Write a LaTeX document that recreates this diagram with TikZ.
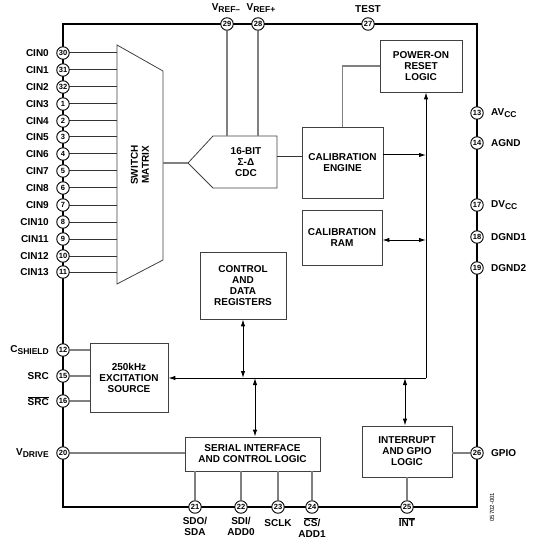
\documentclass[tikz,border=0pt]{standalone}
\usepackage{fontspec}
\setmainfont{Liberation Sans}
\usetikzlibrary{arrows.meta}
\newcommand\ovl[1]{$\overline{\mbox{#1}}$}
\newcommand\pinsub[1]{\raisebox{-2.4pt}{\fontsize{8.5}{8.5}\selectfont #1}}
\begin{document}
\begin{tikzpicture}[x=1pt,y=-1pt,
 font=\bfseries\fontsize{10}{11}\selectfont,
 pinc/.style={circle,draw=black,line width=0.9pt,fill=white,inner sep=0pt,minimum size=12.5pt,font=\bfseries\fontsize{7.5}{7.5}\selectfont},
 blk/.style={draw=black!75,line width=0.8pt,fill=white,align=center,inner sep=1pt},
 conn/.style={draw=black!50,line width=1.2pt},
 dconn/.style={draw=black!80,line width=1pt},
 arr/.style={-{Latex[length=7pt,width=4.5pt]},black,line width=1pt},
 darr/.style={{Latex[length=7pt,width=4.5pt]}-{Latex[length=7pt,width=4.5pt]},black,line width=1pt},
 lbl/.style={inner sep=0pt},
 llbl/.style={inner sep=0pt,anchor=east},
 rlbl/.style={inner sep=0pt,anchor=west},
 blbl/.style={inner sep=0pt,anchor=north,align=center,font=\bfseries\fontsize{10}{11.5}\selectfont},
]
\useasboundingbox (0,0) rectangle (539,545);
% outer border
\draw[line width=2.2pt] (63,24) rectangle (477,507);

% blocks
\node[blk,minimum width=82pt,minimum height=52pt] (por) at (421,66) {POWER-ON\\RESET\\LOGIC};
\node[blk,minimum width=81pt,minimum height=71pt] (cal) at (342.5,162.5) {CALIBRATION\\ENGINE};
\node[blk,minimum width=80pt,minimum height=55pt] (ram) at (342,237.5) {CALIBRATION\\RAM};
\node[blk,minimum width=86pt,minimum height=67pt] (ctrl) at (243,285.5) {CONTROL\\AND\\DATA\\REGISTERS};
\node[blk,minimum width=78pt,minimum height=69pt] (exc) at (129,377.5) {250kHz\\EXCITATION\\SOURCE};
\node[blk,minimum width=135pt,minimum height=34pt] (ser) at (252.5,454) {SERIAL INTERFACE\\AND CONTROL LOGIC};
\node[blk,minimum width=90pt,minimum height=51pt] (irq) at (407,451.5) {INTERRUPT\\AND GPIO\\LOGIC};

% switch matrix
\draw[draw=black!75,line width=0.8pt] (117,45) -- (163,71) -- (163,260) -- (117,284) -- cycle;
\node[lbl,rotate=90,align=center] (sw) at (140,165) {SWITCH\\MATRIX};
\coordinate (swL) at (117,0);
\coordinate (swR) at (163,163);

% CDC
\draw[draw=black!75,line width=0.8pt] (188,163) -- (213,136) -- (277,136) -- (277,188) -- (213,188) -- cycle;
\node[lbl,align=center] (cdc) at (246,162) {16-BIT\\Σ-Δ\\CDC};
\coordinate (cdcL) at (188,163);
\coordinate (cdcT) at (0,136);
\coordinate (cdcR) at (277,157);

% pins left
\foreach \n/\y/\t in {30/53/CIN0,31/70/CIN1,32/87/CIN2,1/104/CIN3,2/121/CIN4,3/137/CIN5,4/154/CIN6,5/171/CIN7,6/188/CIN8,7/205/CIN9,8/222/CIN10,9/239/CIN11,10/256/CIN12,11/272/CIN13}{
  \draw[dconn] (63,\y) -- (117,\y);
  \node[pinc] (p\n) at (63,\y) {\n};
  \node[llbl] (l\n) at (49,\y) {\t};
}
\draw[conn] (163,163) -- (cdcL);

\node[pinc] (p12) at (63,350) {12};
\node[pinc] (p15) at (63,376) {15};
\node[pinc] (p16) at (63,401) {16};
\node[pinc] (p20) at (63,453) {20};
\node[llbl] (l12) at (49,350) {C\pinsub{SHIELD}};
\node[llbl] (l15) at (49,376) {SRC};
\node[llbl] (l16) at (49,401) {\ovl{SRC}};
\node[llbl] (l20) at (49,453) {V\pinsub{DRIVE}};
\draw[conn] (p12.east) -- (p12 -| exc.west);
\draw[conn] (p15.east) -- (p15 -| exc.west);
\draw[conn] (p16.east) -- (p16 -| exc.west);
\draw[conn] (p20.east) -- (p20 -| ser.west);

% pins top
\node[pinc] (p29) at (227,24) {29};
\node[pinc] (p28) at (258,24) {28};
\node[pinc] (p27) at (368,24) {27};
\node[lbl] (l29) at (226,8) {V\pinsub{REF–}};
\node[lbl] (l28) at (261,8) {V\pinsub{REF+}};
\node[lbl] (l27) at (368,9) {TEST};
\draw[conn] (p29.south) -- (p29 |- cdcT);
\draw[conn] (p28.south) -- (p28 |- cdcT);

% pins right
\node[pinc] (p13) at (477,113) {13};
\node[pinc] (p14) at (477,143) {14};
\node[pinc] (p17) at (477,205) {17};
\node[pinc] (p18) at (477,237) {18};
\node[pinc] (p19) at (477,268) {19};
\node[pinc] (p26) at (477,453) {26};
\node[rlbl] (l13) at (491,113) {AV\pinsub{CC}};
\node[rlbl] (l14) at (491,143) {AGND};
\node[rlbl] (l17) at (491,205) {DV\pinsub{CC}};
\node[rlbl] (l18) at (491,237) {DGND1};
\node[rlbl] (l19) at (491,268) {DGND2};
\node[rlbl] (l26) at (491,453) {GPIO};
\draw[conn] (p26.west) -- (p26 -| irq.east);

% pins bottom
\node[pinc] (p21) at (195,507) {21};
\node[pinc] (p22) at (241,507) {22};
\node[pinc] (p23) at (278,507) {23};
\node[pinc] (p24) at (312,507) {24};
\node[pinc] (p25) at (407,507) {25};
\node[blbl] (l21) at (195,517) {SDO/\\SDA};
\node[blbl] (l22) at (241,517) {SDI/\\ADD0};
\node[blbl] (l23) at (278,519) {SCLK};
\node[blbl] (l24) at (312,517) {\ovl{CS}/\\ADD1};
\node[blbl] (l25) at (407,517) {\ovl{INT}};
\draw[conn] (p21.north) -- (p21 |- ser.south);
\draw[conn] (p22.north) -- (p22 |- ser.south);
\draw[conn] (p23.north) -- (p23 |- ser.south);
\draw[conn] (p24.north) -- (p24 |- ser.south);
\draw[conn] (p25.north) -- (p25 |- irq.south);

% internal connections
\draw[dconn] (cdcR) -- (cdcR -| cal.west);
\draw[conn] (cal.north) -- (cal.north |- por.west) -- (por.west);
\coordinate (busB) at (426,378);
\draw[arr] (busB) -- (busB |- por.south);
\draw[arr] (busB) -- (busB -| exc.east);
\draw[arr] (cal.east |- 0,155) -- (busB |- 0,155);
\draw[darr] (ram.east |- 0,240) -- (busB |- 0,240);
\draw[darr] (ctrl.south) -- (ctrl.south |- busB);
\draw[darr] (255,378) -- (ser.north -| 255,0);
\draw[darr] (405,378) -- (irq.north -| 405,0);

\node[lbl,rotate=90,font=\fontsize{6}{6}\selectfont] (code) at (492,507) {05702-001};
\end{tikzpicture}
\end{document}
